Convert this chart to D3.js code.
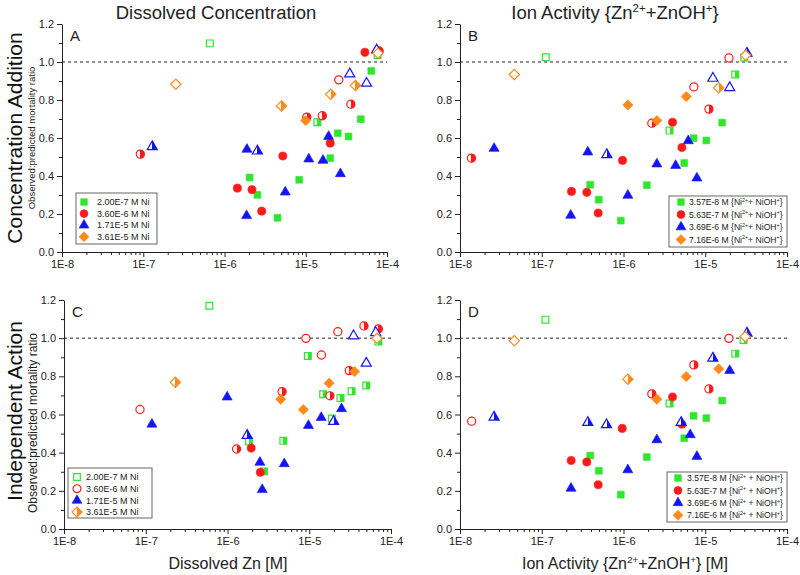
<!DOCTYPE html>
<html><head><meta charset="utf-8">
<script src="https://cdn.jsdelivr.net/npm/d3@7"></script>
<style>body{margin:0;background:#fff} svg{display:block;font-family:"Liberation Sans",Arial,sans-serif}</style>
</head><body><svg id="c" width="800" height="575"></svg>
<script>
// ---- data: [x value (M), observed:predicted ratio, marker fill: f=filled, o=open, h=half] ----
const aGreen = [[6.6e-7,1.098,'o'],[2.04e-6,0.392,'f'],[2.54e-6,0.301,'f'],[4.49e-6,0.180,'f'],[8.3e-6,0.380,'f'],[1.39e-5,0.683,'h'],[2.0e-5,0.494,'f'],[2.48e-5,0.625,'f'],[3.36e-5,0.608,'f'],[4.76e-5,0.699,'f'],[6.4e-5,0.953,'f'],[7.66e-5,1.037,'h']];
const aRed = [[9.2e-8,0.515,'h'],[1.44e-6,0.336,'f'],[2.18e-6,0.328,'f'],[2.87e-6,0.215,'f'],[5.22e-6,0.505,'f'],[1.03e-5,0.71,'h'],[1.6e-5,0.717,'h'],[2.0e-5,0.573,'f'],[2.55e-5,0.906,'o'],[3.59e-5,0.778,'h'],[5.35e-5,1.051,'f'],[8.0e-5,1.058,'h']];
const aBlue = [[1.29e-7,0.554,'h'],[1.89e-6,0.54,'f'],[2.54e-6,0.531,'h'],[1.87e-6,0.191,'f'],[5.6e-6,0.315,'f'],[1.09e-5,0.489,'f'],[1.63e-5,0.482,'f'],[1.91e-5,0.608,'f'],[2.67e-5,0.412,'f'],[3.48e-5,0.937,'o'],[5.6e-5,0.888,'o'],[7.45e-5,1.063,'o']];
const aOrange = [[2.52e-7,0.883,'o'],[5.02e-6,0.769,'h'],[1.0e-5,0.692,'f'],[2.03e-5,0.83,'h'],[4.09e-5,0.876,'h'],[7.74e-5,1.046,'o']];

const bGreen = [[1.12e-7,1.025,'o'],[3.91e-7,0.354,'f'],[4.99e-7,0.275,'f'],[9.27e-7,0.165,'f'],[1.93e-6,0.352,'f'],[3.66e-6,0.639,'h'],[5.53e-6,0.468,'f'],[7.2e-6,0.599,'f'],[1.03e-5,0.587,'f'],[1.61e-5,0.681,'f'],[2.33e-5,0.934,'h'],[3.0e-5,1.023,'h']];
const bRed = [[1.38e-8,0.494,'h'],[2.31e-7,0.319,'f'],[3.56e-7,0.314,'f'],[4.9e-7,0.205,'f'],[9.73e-7,0.482,'f'],[2.22e-6,0.678,'h'],[3.98e-6,0.683,'f'],[5.18e-6,0.55,'f'],[7.26e-6,0.869,'o'],[1.11e-5,0.752,'h'],[1.95e-5,1.021,'o']];
const bBlue = [[2.61e-8,0.545,'f'],[2.26e-7,0.193,'f'],[3.66e-7,0.526,'f'],[6.25e-7,0.512,'h'],[1.13e-6,0.298,'f'],[2.56e-6,0.463,'f'],[4.34e-6,0.455,'f'],[6.19e-6,0.585,'f'],[7.9e-6,0.389,'f'],[1.24e-5,0.914,'o'],[1.99e-5,0.865,'o'],[3.24e-5,1.046,'h']];
const bOrange = [[4.62e-8,0.934,'o'],[1.13e-6,0.774,'f'],[2.56e-6,0.692,'f'],[5.85e-6,0.818,'f'],[1.46e-5,0.864,'h'],[3.12e-5,1.035,'o']];

const cGreen = [[6.0e-7,1.170,'o'],[1.83e-6,0.459,'h'],[2.79e-6,0.302,'h'],[4.82e-6,0.462,'h'],[9.6e-6,0.907,'h'],[1.48e-5,0.706,'h'],[1.89e-5,0.579,'h'],[2.41e-5,0.686,'h'],[3.29e-5,0.722,'h'],[4.98e-5,0.752,'h'],[7.0e-5,0.982,'h']];
const cRed = [[8.5e-8,0.626,'o'],[1.29e-6,0.419,'h'],[1.95e-6,0.424,'f'],[2.52e-6,0.297,'f'],[4.65e-6,0.72,'h'],[9.1e-6,0.999,'o'],[1.41e-5,0.912,'o'],[1.79e-5,0.698,'h'],[2.24e-5,1.034,'o'],[3.08e-5,0.83,'h'],[4.67e-5,1.064,'h'],[7.0e-5,1.048,'h']];
const cBlue = [[1.19e-7,0.549,'f'],[9.9e-7,0.691,'f'],[1.74e-6,0.49,'h'],[2.49e-6,0.349,'f'],[2.66e-6,0.206,'f'],[4.95e-6,0.342,'f'],[9.77e-6,0.542,'f'],[1.4e-5,0.584,'f'],[1.99e-5,0.563,'h'],[2.48e-5,0.63,'f'],[3.48e-5,1.012,'o'],[4.98e-5,0.869,'o'],[6.5e-5,1.029,'o']];
const cOrange = [[2.3e-7,0.769,'h'],[4.47e-6,0.68,'f'],[8.47e-6,0.626,'f'],[1.75e-5,0.764,'f'],[3.58e-5,0.825,'f'],[6.73e-5,0.999,'o']];

const dGreen = [[1.11e-7,1.097,'o'],[3.91e-7,0.385,'f'],[5.0e-7,0.305,'f'],[9.27e-7,0.18,'f'],[1.93e-6,0.377,'f'],[3.66e-6,0.658,'h'],[5.53e-6,0.476,'f'],[7.2e-6,0.593,'f'],[1.03e-5,0.581,'f'],[1.61e-5,0.673,'f'],[2.33e-5,0.919,'h'],[2.94e-5,0.991,'h']];
const dRed = [[1.39e-8,0.565,'o'],[2.29e-7,0.359,'f'],[3.56e-7,0.351,'f'],[4.9e-7,0.232,'f'],[9.64e-7,0.527,'f'],[2.22e-6,0.708,'h'],[3.98e-6,0.692,'f'],[5.18e-6,0.549,'f'],[7.26e-6,0.86,'h'],[1.11e-5,0.734,'h'],[1.95e-5,0.999,'o']];
const dBlue = [[2.61e-8,0.586,'h'],[2.28e-7,0.213,'f'],[3.66e-7,0.558,'h'],[6.2e-7,0.546,'h'],[1.13e-6,0.31,'f'],[2.56e-6,0.467,'f'],[5.08e-6,0.558,'h'],[6.55e-6,0.494,'f'],[7.9e-6,0.38,'f'],[1.24e-5,0.895,'h'],[1.99e-5,0.83,'f'],[3.24e-5,1.026,'h']];
const dOrange = [[4.62e-8,0.986,'o'],[1.13e-6,0.785,'h'],[2.56e-6,0.68,'f'],[5.85e-6,0.799,'f'],[1.46e-5,0.839,'f'],[3.08e-5,1.008,'o']];

const seriesNames = ["green","red","blue","orange"];
const dissolvedNi = ["2.00E-7 M Ni","3.60E-6 M Ni","1.71E-5 M Ni","3.61E-5 M Ni"];
const activityNi = ["3.57E-8 M","5.63E-7 M","3.69E-6 M","7.16E-6 M"];
const xTickValues = [1e-8,1e-7,1e-6,1e-5,1e-4];
const xTickLabels = ["1E-8","1E-7","1E-6","1E-5","1E-4"];
const yTickValues = [0,0.2,0.4,0.6,0.8,1.0,1.2];
const yTickLabels = ["0.0","0.2","0.4","0.6","0.8","1.0","1.2"];
const yMinorValues = [0.1,0.3,0.5,0.7,0.9,1.1];
const legendFillC = ['o','o','f','h'];

// ---- drawing ----
const svg = d3.select("#c");
const colors = {green:"#2ee62e", red:"#ff1a1a", blue:"#1414f5", orange:"#ff8a1c"};
const diamond = {draw(ctx, size){const h=Math.sqrt(size/2)*1.05; ctx.moveTo(0,-h); ctx.lineTo(h,0); ctx.lineTo(0,h); ctx.lineTo(-h,0); ctx.closePath();}};
const shapes = {green:d3.symbolSquare, red:d3.symbolCircle, blue:d3.symbolTriangle, orange:diamond};
const sizes = {green:46, red:52, blue:44, orange:48};

const defs = svg.append("defs");
seriesNames.forEach(n=>{
  const g = defs.append("linearGradient").attr("id","half-"+n).attr("x1",0).attr("x2",1).attr("y1",0).attr("y2",0);
  g.append("stop").attr("offset","0").attr("stop-color","#fff");
  g.append("stop").attr("offset","0.5").attr("stop-color","#fff");
  g.append("stop").attr("offset","0.5").attr("stop-color",colors[n]);
  g.append("stop").attr("offset","1").attr("stop-color",colors[n]);
});

function fillFor(n, f){ return f==='f' ? colors[n] : f==='o' ? "#fff" : `url(#half-${n})`; }

function marker(g, n, f, x, y, scale=1){
  g.append("path")
    .attr("d", d3.symbol().type(shapes[n]).size(sizes[n]*scale)())
    .attr("transform", `translate(${x},${y})`)
    .attr("fill", fillFor(n,f))
    .attr("stroke", colors[n])
    .attr("stroke-width", f==='f'?0.6:1.2);
}

function rich(sel, parts, fs){
  // parts: [text, isSup]
  let up = false;
  parts.forEach(([t,s])=>{
    const ts = sel.append("tspan").text(t);
    if(s){ ts.attr("font-size", fs*0.62).attr("dy", -fs*0.38); up=true; }
    else if(up){ ts.attr("font-size", fs).attr("dy", fs*0.38); up=false; }
  });
}

function panel(cfg){
  const x = d3.scaleLog().domain([1e-8,1e-4]).range([cfg.l,cfg.r]);
  const y = d3.scaleLinear().domain([0,1.2]).range([cfg.b,cfg.t]);
  const g = svg.append("g");
  // minor x ticks
  const minors = [];
  for(let e=-8;e<-4;e++) for(let m=2;m<=9;m++) minors.push(m*Math.pow(10,e));
  g.append("g").attr("transform",`translate(0,${cfg.b})`)
    .call(d3.axisBottom(x).tickValues(minors).tickSize(3).tickFormat(""))
    .call(a=>a.select(".domain").remove());
  g.append("g").attr("transform",`translate(${cfg.l},0)`)
    .call(d3.axisLeft(y).tickValues(yMinorValues).tickSize(3).tickFormat(""))
    .call(a=>a.select(".domain").remove());
  const xa = g.append("g").attr("transform",`translate(0,${cfg.b})`)
    .call(d3.axisBottom(x).tickValues(xTickValues).tickSize(5).tickSizeOuter(0).tickPadding(3).tickFormat((d,i)=>xTickLabels[i]));
  const ya = g.append("g").attr("transform",`translate(${cfg.l},0)`)
    .call(d3.axisLeft(y).tickValues(yTickValues).tickSize(5).tickSizeOuter(0).tickPadding(3).tickFormat((d,i)=>yTickLabels[i]));
  [xa,ya].forEach(a=>{
    a.selectAll("text").attr("font-size",11).attr("fill","#222").attr("font-family","Liberation Sans, Arial, sans-serif");
    a.selectAll("line,path").attr("stroke","#222");
  });
  g.selectAll(".tick line").attr("stroke","#222");
  // reference line at 1.0
  g.append("line").attr("x1",x(1e-8)).attr("x2",x(1e-4)).attr("y1",y(1)).attr("y2",y(1))
    .attr("stroke","#222").attr("stroke-width",1).attr("stroke-dasharray","3,3");
  // points
  cfg.series.forEach((data,i)=>{
    const n = seriesNames[i];
    data.forEach(d=>marker(g, n, d[2], x(d[0]), y(d[1])));
  });
  // panel letter
  g.append("text").attr("x",cfg.l+8).attr("y",cfg.t+17).attr("font-size",15).attr("fill","#222").text(cfg.letter);
  // legend
  const L = cfg.legend;
  g.append("rect").attr("x",L.x).attr("y",L.y).attr("width",L.w).attr("height",L.h)
    .attr("fill","#fff").attr("stroke","#666").attr("stroke-width",1);
  seriesNames.forEach((n,i)=>{
    const yy = L.y + L.row0 + i*L.dy;
    marker(g, n, L.fills[i], L.x+L.mx, yy, 0.95);
    const t = g.append("text").attr("x",L.x+L.tx).attr("y",yy+3.2).attr("font-size",L.fs).attr("fill","#222");
    if(L.rich) rich(t, [[L.labels[i]+" {Ni",false],["2+",true],[L.sep+"NiOH",false],["+",true],["}",false]], L.fs);
    else t.text(L.labels[i]);
  });
}

panel({l:62,r:387,t:24,b:252,letter:"A",series:[aGreen,aRed,aBlue,aOrange],
  legend:{x:76,y:193,w:81,h:51,row0:9,dy:11.6,mx:8,tx:21,fs:9,fills:['f','f','f','f'],labels:dissolvedNi}});
panel({l:460,r:787,t:24,b:252,letter:"B",series:[bGreen,bRed,bBlue,bOrange],
  legend:{x:669,y:196,w:118,h:51,row0:6,dy:12.5,mx:12,tx:20,fs:8.6,fills:['f','f','f','f'],labels:activityNi,rich:true,sep:"+ "}});
panel({l:64,r:391,t:300,b:529,letter:"C",series:[cGreen,cRed,cBlue,cOrange],
  legend:{x:68,y:468,w:84,h:50,row0:9,dy:11.7,mx:9,tx:18,fs:9,fills:legendFillC,labels:dissolvedNi}});
panel({l:460,r:787,t:300,b:529,letter:"D",series:[dGreen,dRed,dBlue,dOrange],
  legend:{x:667,y:472,w:120,h:50,row0:6,dy:12.4,mx:11,tx:20,fs:8.6,fills:['f','f','f','f'],labels:activityNi,rich:true,sep:" + "}});

// titles
svg.append("text").attr("x",216).attr("y",19).attr("text-anchor","middle").attr("font-size",18.5).attr("fill","#222").text("Dissolved Concentration");
rich(svg.append("text").attr("x",615).attr("y",19).attr("text-anchor","middle").attr("font-size",18.5).attr("fill","#222"),
  [["Ion Activity {Zn",false],["2+",true],["+ZnOH",false],["+",true],["}",false]],18.5);
// row labels
svg.append("text").attr("transform","translate(22,138) rotate(-90)").attr("text-anchor","middle").attr("font-size",21).attr("fill","#111").text("Concentration Addition");
svg.append("text").attr("transform","translate(22,411) rotate(-90)").attr("text-anchor","middle").attr("font-size",21).attr("fill","#111").text("Independent Action");
svg.append("text").attr("transform","translate(35,138) rotate(-90)").attr("text-anchor","middle").attr("font-size",9.5).attr("fill","#222").text("Observed:predicted mortality ratio");
svg.append("text").attr("transform","translate(37,423) rotate(-90)").attr("text-anchor","middle").attr("font-size",12).attr("fill","#222").text("Observed:predicted mortality ratio");
// x titles
svg.append("text").attr("x",228).attr("y",569).attr("text-anchor","middle").attr("font-size",16).attr("fill","#222").text("Dissolved Zn [M]");
rich(svg.append("text").attr("x",625).attr("y",569).attr("text-anchor","middle").attr("font-size",16).attr("fill","#222"),
  [["Ion Activity {Zn",false],["2+",true],["+ZnOH",false],["+",true],["} [M]",false]],16);
</script></body></html>
